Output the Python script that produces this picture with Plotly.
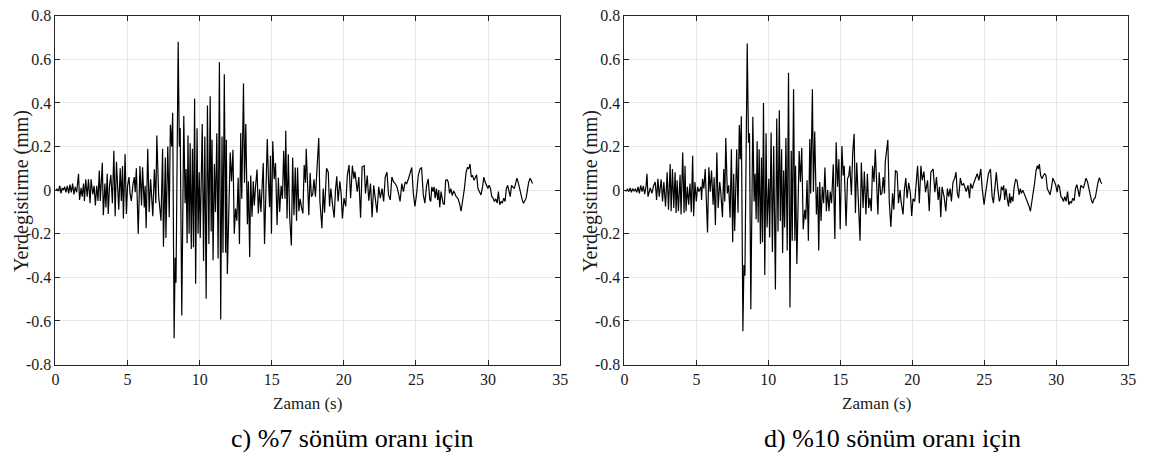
import plotly.graph_objects as go

# ---- panel c) %7 damping ----
t_c = [0.0, 0.1, 0.2, 0.3, 0.38, 0.47, 0.55, 0.64, 0.73, 0.82, 0.92, 1.0, 1.1, 1.19, 1.28, 1.37, 1.47,
       1.6, 1.67, 1.78, 1.85, 1.95, 2.01, 2.1, 2.2, 2.29, 2.4, 2.47, 2.59, 2.68, 2.77, 2.86, 2.95,
       3.04, 3.11, 3.18, 3.25, 3.32, 3.43, 3.5, 3.59, 3.66, 3.75, 3.84, 3.95, 4.05, 4.14, 4.23, 4.39,
       4.49, 4.57, 4.65, 4.71, 4.83, 4.92, 5.0, 5.1, 5.18, 5.26, 5.38, 5.47, 5.53, 5.61, 5.74, 5.86,
       5.97, 6.04, 6.16, 6.22, 6.29, 6.4, 6.5, 6.6, 6.75, 6.86, 6.96, 7.03, 7.16, 7.32, 7.43, 7.49,
       7.62, 7.66, 7.79, 7.89, 7.97, 8.06, 8.13, 8.23, 8.3, 8.36, 8.51, 8.59, 8.65, 8.76, 8.9, 8.99,
       9.06, 9.13, 9.19, 9.27, 9.34, 9.42, 9.5, 9.57, 9.65, 9.72, 9.82, 9.89, 9.97, 10.04, 10.18, 10.27,
       10.36, 10.45, 10.54, 10.64, 10.73, 10.8, 10.86, 10.93, 11.02, 11.1, 11.19, 11.28, 11.37, 11.46,
       11.55, 11.62, 11.71, 11.8, 11.85, 11.92, 12.12, 12.21, 12.31, 12.4, 12.49, 12.58, 12.67, 12.76,
       12.85, 12.92, 13.04, 13.11, 13.2, 13.31, 13.38, 13.47, 13.54, 13.63, 13.72, 13.79, 13.88, 13.98,
       14.07, 14.16, 14.25, 14.32, 14.41, 14.5, 14.59, 14.69, 14.78, 14.85, 14.91, 14.98, 15.07, 15.17,
       15.26, 15.37, 15.46, 15.55, 15.65, 15.74, 15.83, 15.92, 15.97, 16.06, 16.15, 16.24, 16.36, 16.45,
       16.54, 16.63, 16.72, 16.79, 16.88, 16.97, 17.06, 17.16, 17.25, 17.34, 17.39, 17.48, 17.57, 17.66,
       17.75, 17.84, 17.93, 18.03, 18.14, 18.26, 18.34, 18.48, 18.57, 18.66, 18.8, 18.92, 19.01, 19.1,
       19.21, 19.33, 19.42, 19.51, 19.6, 19.72, 19.81, 19.9, 20.01, 20.13, 20.24, 20.36, 20.47, 20.59,
       20.7, 20.77, 20.93, 21.04, 21.16, 21.27, 21.41, 21.5, 21.62, 21.73, 21.85, 21.96, 22.07, 22.19,
       22.3, 22.42, 22.53, 22.65, 22.76, 22.87, 22.99, 23.1, 23.22, 23.33, 23.45, 23.56, 23.68, 23.79,
       23.9, 24.02, 24.13, 24.25, 24.36, 24.48, 24.59, 24.71, 24.82, 24.93, 25.05, 25.16, 25.28, 25.39,
       25.51, 25.62, 25.74, 25.85, 25.96, 26.03, 26.1, 26.19, 26.26, 26.33, 26.42, 26.51, 26.58, 26.65,
       26.74, 26.81, 26.88, 26.97, 27.06, 27.15, 27.24, 27.33, 27.42, 27.52, 27.61, 27.7, 27.79, 27.9,
       28.02, 28.13, 28.25, 28.36, 28.48, 28.57, 28.66, 28.75, 28.84, 28.93, 29.03, 29.12, 29.21, 29.3,
       29.39, 29.51, 29.62, 29.71, 29.8, 29.9, 29.99, 30.08, 30.17, 30.26, 30.35, 30.44, 30.54, 30.63,
       30.72, 30.81, 30.9, 30.99, 31.09, 31.18, 31.27, 31.36, 31.45, 31.54, 31.63, 31.73, 31.82, 31.91,
       32.0, 32.09, 32.18, 32.27, 32.37, 32.46, 32.55, 32.64, 32.73, 32.82, 32.92, 33.01, 33.08]
y_c = [0.0, 0.005, -0.005, 0.02, -0.015, 0.01, 0.0, 0.015, -0.01, 0.02, -0.015, 0.025, -0.01, 0.03, -0.02, 0.015, -0.01,
       0.075, -0.045, 0.01, -0.03, 0.03, -0.05, 0.05, -0.03, 0.05, -0.06, 0.05, -0.02, 0.02, -0.07, 0.02, -0.05,
       0.09, -0.05, 0.03, 0.125, -0.115, 0.03, -0.08, 0.075, -0.11, 0.02, 0.07, -0.06, 0.18, -0.12, 0.13, -0.09,
       0.1, -0.05, 0.11, -0.13, 0.165, -0.11, 0.02, 0.06, -0.02, -0.05, 0.03, 0.06, -0.01, 0.1, -0.2, 0.11,
       -0.07, 0.105, -0.08, 0.02, -0.175, 0.19, -0.1, 0.05, -0.12, 0.095, -0.06, 0.25, -0.03, -0.14, 0.19, -0.26,
       0.15, -0.22, 0.2, -0.125, 0.3, 0.2, 0.355, -0.68, -0.31, -0.425, 0.68, 0.2, 0.285, -0.575, 0.34, -0.06,
       0.097, -0.244, 0.25, -0.2, 0.215, -0.27, 0.19, -0.262, 0.42, -0.43, 0.284, -0.2, 0.082, -0.22, 0.303, -0.325,
       0.246, -0.498, 0.388, -0.247, 0.43, -0.19, 0.231, -0.322, 0.12, -0.1, 0.261, -0.314, 0.587, -0.594,
       0.246, -0.287, 0.531, -0.287, 0.231, -0.385, 0.172, 0.04, 0.185, -0.2, -0.085, -0.14, 0.057, -0.247,
       0.262, -0.04, 0.489, 0.034, 0.303, -0.157, 0.04, -0.307, 0.067, -0.122, 0.04, -0.07, 0.02, 0.094,
       -0.107, 0.004, -0.1, -0.003, 0.124, -0.247, 0.03, 0.234, 0.03, -0.078, 0.157, -0.2, 0.224, 0.05,
       0.124, -0.16, 0.057, -0.1, 0.02, -0.04, 0.18, -0.04, 0.272, -0.13, 0.164, -0.12, -0.254, 0.149,
       -0.115, 0.104, -0.14, 0.104, -0.097, -0.04, -0.078, -0.107, 0.115, 0.034, 0.19, -0.01, -0.115, 0.08,
       -0.03, -0.02, 0.05, -0.03, 0.13, 0.239, -0.052, -0.175, 0.007, -0.104, 0.1, 0.082, -0.075, 0.007,
       -0.064, -0.127, 0.0, 0.063, -0.052, 0.04, -0.015, -0.13, -0.037, -0.075, 0.067, 0.115, -0.037, 0.112,
       0.052, 0.085, -0.007, 0.06, -0.127, 0.107, 0.112, -0.015, 0.067, -0.049, 0.03, -0.124, 0.022, -0.04,
       -0.104, 0.015, -0.037, 0.007, -0.052, 0.06, 0.082, -0.022, -0.045, 0.06, 0.037, 0.03, 0.015, -0.015,
       -0.052, 0.03, -0.007, 0.037, 0.03, 0.052, 0.082, 0.104, -0.015, -0.075, -0.015, 0.067, 0.097, 0.104,
       -0.022, -0.06, 0.022, 0.052, -0.045, -0.052, 0.015, -0.007, 0.015, -0.037, 0.007, -0.045, 0.0, -0.079,
       -0.007, -0.045, -0.06, -0.067, 0.045, 0.048, 0.037, -0.015, 0.007, -0.025, -0.004, -0.015, -0.03, -0.037,
       -0.06, -0.097, -0.052, 0.007, 0.082, 0.104, 0.097, 0.12, 0.06, 0.067, 0.045, 0.06, 0.07, 0.007,
       -0.007, -0.022, 0.015, 0.06, 0.037, 0.022, 0.007, 0.022, 0.007, -0.03, -0.037, -0.052, -0.04, -0.06,
       -0.007, -0.067, -0.052, -0.06, -0.037, -0.052, 0.007, 0.022, 0.0, -0.03, 0.022, 0.015, 0.007, 0.03,
       0.055, 0.037, 0.007, -0.007, -0.045, -0.06, -0.045, -0.037, 0.0, 0.037, 0.055, 0.037, 0.03]

# ---- panel d) %10 damping ----
t_d = [0.0, 0.117, 0.209, 0.301, 0.393, 0.485, 0.577, 0.669, 0.761, 0.853, 0.945, 1.036, 1.128, 1.22, 1.312,
       1.404, 1.496, 1.565, 1.634, 1.795, 1.91, 2.025, 2.14, 2.232, 2.324, 2.416, 2.554, 2.646, 2.738, 2.853,
       2.968, 3.06, 3.175, 3.244, 3.335, 3.427, 3.519, 3.588, 3.657, 3.749, 3.864, 3.933, 4.048, 4.14, 4.209,
       4.278, 4.37, 4.462, 4.554, 4.646, 4.738, 4.807, 4.899, 4.991, 5.083, 5.175, 5.313, 5.359, 5.428, 5.52,
       5.611, 5.68, 5.772, 5.864, 5.956, 6.05, 6.16, 6.23, 6.32, 6.42, 6.51, 6.62, 6.69, 6.81, 6.9, 6.97,
       7.04, 7.15, 7.24, 7.34, 7.43, 7.52, 7.59, 7.66, 7.8, 7.89, 7.98, 8.05, 8.12, 8.23, 8.3, 8.37, 8.53,
       8.62, 8.69, 8.78, 8.92, 9.01, 9.08, 9.15, 9.22, 9.29, 9.36, 9.45, 9.52, 9.59, 9.66, 9.75, 9.84, 9.91,
       10.03, 10.09, 10.19, 10.28, 10.37, 10.49, 10.58, 10.67, 10.76, 10.83, 10.92, 10.99, 11.06, 11.13, 11.22,
       11.31, 11.4, 11.5, 11.59, 11.66, 11.75, 11.84, 11.89, 11.98, 12.14, 12.23, 12.32, 12.42, 12.53, 12.6,
       12.69, 12.78, 12.88, 12.94, 13.06, 13.13, 13.22, 13.34, 13.43, 13.5, 13.57, 13.66, 13.75, 13.84, 13.93,
       14.03, 14.12, 14.21, 14.3, 14.39, 14.51, 14.62, 14.71, 14.81, 14.9, 14.99, 15.11, 15.2, 15.27, 15.4,
       15.5, 15.59, 15.66, 15.77, 15.86, 15.96, 16.05, 16.14, 16.26, 16.37, 16.46, 16.58, 16.67, 16.78, 16.88,
       16.97, 17.06, 17.15, 17.24, 17.34, 17.43, 17.52, 17.61, 17.7, 17.8, 17.89, 17.98, 18.07, 18.12, 18.3,
       18.4, 18.51, 18.63, 18.72, 18.83, 18.95, 19.04, 19.15, 19.22, 19.36, 19.45, 19.55, 19.64, 19.75, 19.87,
       19.96, 20.05, 20.17, 20.28, 20.37, 20.49, 20.6, 20.69, 20.81, 20.92, 21.06, 21.18, 21.29, 21.45, 21.57,
       21.68, 21.8, 21.89, 21.98, 22.07, 22.21, 22.33, 22.44, 22.53, 22.63, 22.72, 22.83, 22.95, 23.04, 23.13,
       23.22, 23.34, 23.45, 23.57, 23.66, 23.75, 23.87, 23.98, 24.05, 24.17, 24.28, 24.4, 24.51, 24.63, 24.76,
       24.86, 24.99, 25.09, 25.2, 25.29, 25.43, 25.55, 25.64, 25.73, 25.84, 25.94, 26.05, 26.12, 26.19, 26.28,
       26.35, 26.42, 26.51, 26.6, 26.69, 26.76, 26.83, 26.9, 26.99, 27.08, 27.18, 27.27, 27.36, 27.43, 27.5,
       27.59, 27.68, 27.77, 27.89, 28.0, 28.12, 28.21, 28.3, 28.42, 28.51, 28.6, 28.69, 28.76, 28.83, 28.92,
       29.02, 29.11, 29.2, 29.29, 29.38, 29.48, 29.57, 29.68, 29.77, 29.87, 29.96, 30.07, 30.14, 30.23, 30.33,
       30.42, 30.51, 30.6, 30.69, 30.79, 30.88, 30.97, 31.06, 31.15, 31.25, 31.34, 31.43, 31.52, 31.61, 31.71,
       31.8, 31.89, 31.98, 32.07, 32.17, 32.26, 32.35, 32.44, 32.53, 32.63, 32.72, 32.81, 32.9, 33.0, 33.09,
       33.18]
y_d = [0.0, -0.004, 0.004, -0.007, 0.01, -0.01, 0.007, -0.004, 0.004, -0.01, 0.015, -0.015, 0.022, -0.007, 0.019,
       -0.019, 0.015, 0.075, -0.03, 0.01, -0.015, 0.02, 0.037, -0.045, 0.052, -0.03, 0.049, -0.052, 0.037, -0.075,
       0.082, -0.09, 0.12, -0.097, 0.097, -0.082, 0.082, -0.105, 0.045, -0.097, 0.07, -0.112, 0.172, -0.105, 0.112,
       -0.097, 0.015, -0.067, 0.03, -0.102, 0.157, -0.12, 0.037, -0.052, 0.015, -0.007, 0.015, -0.045, 0.052, 0.007,
       0.097, -0.037, -0.194, 0.105, -0.007, 0.09, -0.067, 0.059, -0.16, 0.172, -0.082, 0.037, -0.007, -0.124, 0.097, -0.052,
       0.239, -0.015, 0.022, -0.127, 0.187, -0.239, 0.075, -0.187, 0.187, -0.104, 0.299, 0.142, 0.339, -0.647, -0.344, -0.393, 0.673,
       0.217, 0.261, -0.546, 0.336, -0.052, 0.075, -0.134, 0.224, -0.149, 0.187, -0.247, 0.149, -0.239, 0.399, -0.389, 0.261, -0.172,
       0.052, -0.217, 0.264, -0.284, 0.202, -0.456, 0.329, -0.19, 0.366, -0.142, 0.187, -0.289, 0.09, -0.172, 0.239,
       -0.277, 0.538, -0.539, 0.18, -0.232, 0.463, -0.232, 0.112, -0.339, 0.179, 0.037, 0.194, -0.18, -0.09, -0.135,
       0.045, -0.232, 0.234, -0.015, 0.463, -0.007, 0.269, -0.112, 0.015, -0.277, 0.037, -0.142, 0.015, -0.06, 0.104,
       -0.097, 0.0, -0.097, -0.007, -0.06, 0.119, -0.224, 0.22, 0.015, 0.142, -0.18, 0.202, 0.067, 0.112, -0.164,
       0.052, 0.067, 0.112, -0.022, 0.172, 0.258, -0.105, 0.127, -0.045, -0.232, 0.127, -0.082, 0.085, -0.112, 0.075,
       -0.082, -0.037, -0.097, 0.112, 0.037, 0.187, 0.037, -0.112, 0.082, -0.022, -0.015, 0.06, -0.015, 0.127, 0.231,
       -0.052, -0.169, -0.015, -0.09, 0.09, 0.082, -0.06, 0.0, -0.052, -0.112, 0.0, 0.055, -0.037, 0.033, -0.015,
       -0.119, -0.04, -0.052, 0.06, 0.112, -0.06, 0.112, 0.045, 0.085, -0.01, 0.045, -0.097, 0.082, 0.097, -0.01,
       0.06, -0.045, 0.015, -0.124, 0.015, -0.03, -0.097, 0.007, -0.03, 0.007, -0.052, 0.037, 0.055, 0.082, -0.015,
       -0.037, 0.055, 0.022, 0.03, 0.007, -0.007, 0.022, -0.037, 0.03, 0.007, 0.034, 0.052, 0.075, 0.045, 0.097,
       0.007, -0.067, -0.015, 0.052, 0.075, 0.097, -0.03, -0.06, -0.007, 0.082, 0.007, -0.052, -0.037, 0.015, 0.0,
       0.022, -0.045, 0.007, -0.04, -0.075, -0.015, -0.06, -0.03, -0.052, 0.015, 0.049, 0.045, 0.007, -0.022, 0.007,
       -0.015, 0.0, -0.015, -0.03, -0.052, -0.075, -0.097, -0.06, -0.007, 0.037, 0.09, 0.112, 0.097, 0.119, 0.067,
       0.052, 0.067, 0.075, 0.067, 0.007, -0.007, -0.022, 0.015, 0.055, 0.04, 0.025, -0.01, 0.025, 0.015, -0.03,
       -0.037, -0.052, -0.03, -0.052, -0.007, -0.067, -0.052, -0.06, -0.037, -0.049, 0.007, 0.025, 0.0, -0.03, 0.022,
       0.015, 0.01, 0.03, 0.055, 0.04, 0.01, -0.007, -0.045, -0.06, -0.04, -0.034, 0.007, 0.034, 0.057, 0.037,
       0.03]

x_ticks = [0, 5, 10, 15, 20, 25, 30, 35]
x_labels = ["0", "5", "10", "15", "20", "25", "30", "35"]
y_ticks = [-0.8, -0.6, -0.4, -0.2, 0, 0.2, 0.4, 0.6, 0.8]
y_labels = ["-0.8", "-0.6", "-0.4", "-0.2", "0", "0.2", "0.4", "0.6", "0.8"]
x_title = "Zaman (s)"
y_title = "Yerdegistirme (mm)"
captions = ["c) %7 sönüm oranı için", "d) %10 sönüm oranı için"]

W, H = 1150, 466
SERIF = "Times New Roman, Liberation Serif, DejaVu Serif, serif"

fig = go.Figure()
fig.add_trace(go.Scatter(x=t_c, y=y_c, mode="lines", line=dict(color="black", width=1.2),
                         xaxis="x", yaxis="y", showlegend=False, hoverinfo="skip"))
fig.add_trace(go.Scatter(x=t_d, y=y_d, mode="lines", line=dict(color="black", width=1.2),
                         xaxis="x2", yaxis="y2", showlegend=False, hoverinfo="skip"))

def xax(dom, anchor):
    return dict(domain=dom, anchor=anchor, range=[0, 35], tickmode="array", tickvals=x_ticks,
                ticktext=x_labels, ticks="inside", ticklen=5, tickcolor="#262626",
                showline=True, linecolor="#262626", linewidth=1, mirror="ticks",
                showgrid=True, gridcolor="#e6e6e6", gridwidth=1, zeroline=False,
                ticklabeloverflow="allow",
                tickfont=dict(family=SERIF, size=16, color="#1a1a1a"))

def yax(dom, anchor):
    return dict(domain=dom, anchor=anchor, range=[-0.8, 0.8], tickmode="array", tickvals=y_ticks,
                ticktext=y_labels, ticks="inside", ticklen=5, tickcolor="#262626",
                showline=True, linecolor="#262626", linewidth=1, mirror="ticks",
                showgrid=True, gridcolor="#e6e6e6", gridwidth=1, zeroline=False,
                ticklabeloverflow="allow",
                tickfont=dict(family=SERIF, size=16, color="#1a1a1a"))

ydom = [1 - 370 / H, 1 - 8 / H]
fig.update_layout(
    width=W, height=H,
    margin=dict(l=0, r=0, t=0, b=0),
    paper_bgcolor="white", plot_bgcolor="white",
    font=dict(family=SERIF, color="#1a1a1a"),
    xaxis=xax([52 / W, 562 / W], "y"),
    yaxis=yax(ydom, "x"),
    xaxis2=xax([627 / W, 1136 / W], "y2"),
    yaxis2=yax(ydom, "x2"),
)

ann = []
for cx in (307, 882):
    ann.append(dict(text=x_title, x=cx / W, y=1 - 410 / H, xref="paper", yref="paper",
                    showarrow=False, font=dict(family=SERIF, size=17, color="#1a1a1a"),
                    xanchor="center", yanchor="middle"))
for cx in (17, 592):
    ann.append(dict(text=y_title, x=cx / W, y=1 - 190 / H, xref="paper", yref="paper",
                    showarrow=False, textangle=-90, font=dict(family=SERIF, size=20, color="#1a1a1a"),
                    xanchor="center", yanchor="middle"))
for cx, cap in zip((352, 898), captions):
    ann.append(dict(text=cap, x=cx / W, y=1 - 447 / H, xref="paper", yref="paper",
                    showarrow=False, font=dict(family=SERIF, size=26, color="black"),
                    xanchor="center", yanchor="middle"))
fig.update_layout(annotations=ann)

fig.write_html("out.html", config={"displayModeBar": False},
               post_script="document.body.style.margin='0';document.body.style.overflow='hidden';")
